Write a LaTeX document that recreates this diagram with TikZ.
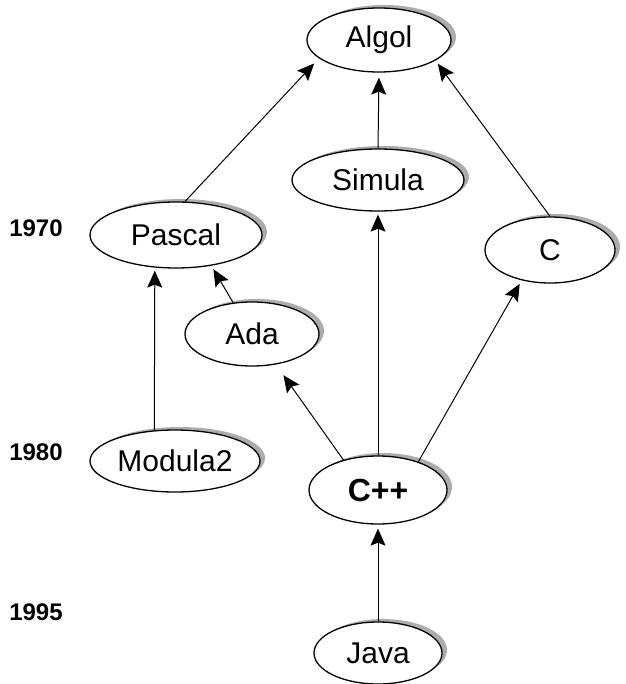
\documentclass[tikz,border=0pt]{standalone}
\usepackage{fontspec}
\setmainfont{Liberation Sans}
\usetikzlibrary{shapes.geometric,arrows.meta,shadows}
\begin{document}
\begin{tikzpicture}[x=1pt,y=-1pt,
  lang/.style={ellipse, draw, line width=1.3pt, fill=white, inner sep=0pt,
    font=\fontsize{30}{30}\selectfont,
    drop shadow={shadow xshift=5pt, shadow yshift=3pt, fill=gray!65, opacity=1}},
  yr/.style={font=\fontsize{24}{24}\selectfont\bfseries, inner sep=0pt},
  link/.style={line width=1pt, -{Stealth[length=17pt,width=15pt,inset=3pt]}},
]
\useasboundingbox (0,0) rectangle (625,684);
\node[lang, minimum width=144pt, minimum height=64pt] (algol) at (379,40) {Algol};
\node[lang, minimum width=172pt, minimum height=62pt] (simula) at (378,180) {Simula};
\node[lang, minimum width=172pt, minimum height=66pt] (pascal) at (176,235) {Pascal};
\node[lang, minimum width=130pt, minimum height=66pt] (c) at (550,250) {C};
\node[lang, minimum width=134pt, minimum height=64pt] (ada) at (252,334) {Ada};
\node[lang, minimum width=170pt, minimum height=62pt] (modula) at (175,461) {Modula2};
\node[lang, minimum width=138pt, minimum height=68pt, font=\fontsize{32}{32}\selectfont\bfseries] (cpp) at (378,490) {C++};
\node[lang, minimum width=128pt, minimum height=62pt] (java) at (378,653) {Java};

\node[yr] (y1970) at (36,228) {1970};
\node[yr] (y1980) at (36,452) {1980};
\node[yr] (y1995) at (36,612) {1995};

\draw[link, shorten >=7pt] (pascal.75) -- (algol.197);
\draw[link, shorten >=5pt] (simula.north) -- (algol.south);
\draw[link, shorten >=4pt] (c.north) -- (algol.340);
\draw[link, shorten >=4pt] (ada.121) -- (pascal.319);
\draw[link, shorten >=3pt] (modula.124) -- (pascal.237);
\draw[link, shorten >=13pt] (cpp.139) -- (ada.308);
\draw[link, shorten >=3pt] (cpp.north) -- (simula.south);
\draw[link, shorten >=4pt] (cpp.35) -- (c.227);
\draw[link, shorten >=4pt] (java.north) -- (cpp.south);
\end{tikzpicture}
\end{document}
